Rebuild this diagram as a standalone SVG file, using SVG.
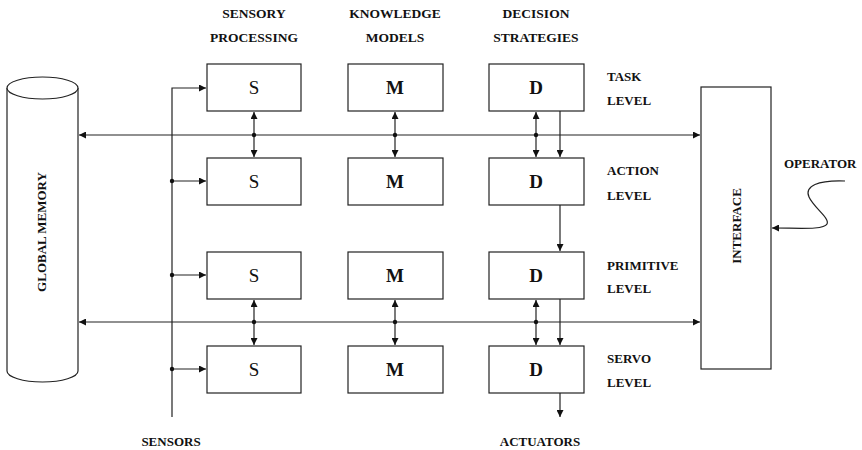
<svg xmlns="http://www.w3.org/2000/svg" width="862" height="450" viewBox="0 0 862 450">
<style>
  .bx{fill:#fff;stroke:#222;stroke-width:1.2}
  .ln{fill:none;stroke:#222;stroke-width:1.2}
  .lbl{font-family:"Liberation Serif","DejaVu Serif",serif;font-weight:bold;font-size:13px;fill:#111}
  .hd{font-family:"Liberation Serif","DejaVu Serif",serif;font-weight:bold;font-size:13.5px;fill:#111;text-anchor:middle}
  .big{font-family:"Liberation Serif","DejaVu Serif",serif;font-size:19px;fill:#111;text-anchor:middle}
  .bold{font-weight:bold}
  .dot{fill:#111}
</style>
<defs>
  <marker id="ah" viewBox="0 0 10 10" refX="10" refY="5" markerWidth="9" markerHeight="7" markerUnits="userSpaceOnUse" orient="auto-start-reverse">
    <path d="M0,0 L10,5 L0,10 Z" fill="#111"/>
  </marker>
</defs>

<g id="headers">
  <text class="hd" x="254" y="18">SENSORY</text>
  <text class="hd" x="254" y="42">PROCESSING</text>
  <text class="hd" x="395" y="18">KNOWLEDGE</text>
  <text class="hd" x="395" y="42">MODELS</text>
  <text class="hd" x="536" y="18">DECISION</text>
  <text class="hd" x="536" y="42">STRATEGIES</text>
</g>

<g id="levels">
  <text class="lbl" x="607" y="81">TASK</text>
  <text class="lbl" x="607" y="105">LEVEL</text>
  <text class="lbl" x="607" y="175">ACTION</text>
  <text class="lbl" x="607" y="200">LEVEL</text>
  <text class="lbl" x="607" y="270">PRIMITIVE</text>
  <text class="lbl" x="607" y="293">LEVEL</text>
  <text class="lbl" x="607" y="363">SERVO</text>
  <text class="lbl" x="607" y="387">LEVEL</text>
  <text class="lbl" x="784" y="168">OPERATOR</text>
  <text class="lbl" x="171" y="446" text-anchor="middle">SENSORS</text>
  <text class="lbl" x="540" y="446" text-anchor="middle">ACTUATORS</text>
</g>

<g id="global-memory">
  <path class="bx" d="M7,88 L7,371 A35.5,11 0 0 0 78,371 L78,88"/>
  <ellipse class="bx" cx="42.5" cy="88" rx="35.5" ry="11"/>
  <text class="lbl" transform="translate(46,232) rotate(-90)" text-anchor="middle">GLOBAL  MEMORY</text>
</g>

<g id="interface">
  <rect class="bx" x="701" y="87" width="70" height="282"/>
  <text class="lbl" transform="translate(741,226) rotate(-90)" text-anchor="middle">INTERFACE</text>
</g>

<g id="S1"><rect class="bx" x="207" y="64" width="94" height="47"/><text class="big" x="254" y="94">S</text></g>
<g id="S2"><rect class="bx" x="207" y="158" width="94" height="47"/><text class="big" x="254" y="188">S</text></g>
<g id="S3"><rect class="bx" x="207" y="252" width="94" height="47"/><text class="big" x="254" y="282">S</text></g>
<g id="S4"><rect class="bx" x="207" y="346" width="94" height="47"/><text class="big" x="254" y="376">S</text></g>

<g id="M1"><rect class="bx" x="348" y="64" width="95" height="47"/><text class="big bold" x="395" y="94">M</text></g>
<g id="M2"><rect class="bx" x="348" y="158" width="95" height="47"/><text class="big bold" x="395" y="188">M</text></g>
<g id="M3"><rect class="bx" x="348" y="252" width="95" height="47"/><text class="big bold" x="395" y="282">M</text></g>
<g id="M4"><rect class="bx" x="348" y="346" width="95" height="47"/><text class="big bold" x="395" y="376">M</text></g>

<g id="D1"><rect class="bx" x="489" y="64" width="95" height="47"/><text class="big bold" x="536" y="94">D</text></g>
<g id="D2"><rect class="bx" x="489" y="158" width="95" height="47"/><text class="big bold" x="536" y="188">D</text></g>
<g id="D3"><rect class="bx" x="489" y="252" width="95" height="47"/><text class="big bold" x="536" y="282">D</text></g>
<g id="D4"><rect class="bx" x="489" y="346" width="95" height="47"/><text class="big bold" x="536" y="376">D</text></g>

<g id="connectors">
  <!-- buses -->
  <line class="ln" x1="79" y1="135" x2="700" y2="135" marker-start="url(#ah)" marker-end="url(#ah)"/>
  <line class="ln" x1="79" y1="322" x2="700" y2="322" marker-start="url(#ah)" marker-end="url(#ah)"/>
  <!-- vertical double arrows -->
  <line class="ln" x1="254" y1="112" x2="254" y2="157" marker-start="url(#ah)" marker-end="url(#ah)"/>
  <line class="ln" x1="395" y1="112" x2="395" y2="157" marker-start="url(#ah)" marker-end="url(#ah)"/>
  <line class="ln" x1="536" y1="112" x2="536" y2="157" marker-start="url(#ah)" marker-end="url(#ah)"/>
  <line class="ln" x1="254" y1="300" x2="254" y2="345" marker-start="url(#ah)" marker-end="url(#ah)"/>
  <line class="ln" x1="395" y1="300" x2="395" y2="345" marker-start="url(#ah)" marker-end="url(#ah)"/>
  <line class="ln" x1="536" y1="300" x2="536" y2="345" marker-start="url(#ah)" marker-end="url(#ah)"/>
  <circle class="dot" cx="254" cy="135" r="2.2"/>
  <circle class="dot" cx="395" cy="135" r="2.2"/>
  <circle class="dot" cx="536" cy="135" r="2.2"/>
  <circle class="dot" cx="254" cy="322" r="2.2"/>
  <circle class="dot" cx="395" cy="322" r="2.2"/>
  <circle class="dot" cx="536" cy="322" r="2.2"/>
  <!-- decision chain -->
  <line class="ln" x1="560" y1="111" x2="560" y2="157" marker-end="url(#ah)"/>
  <line class="ln" x1="560" y1="205" x2="560" y2="251" marker-end="url(#ah)"/>
  <line class="ln" x1="560" y1="299" x2="560" y2="345" marker-end="url(#ah)"/>
  <line class="ln" x1="560" y1="393" x2="560" y2="417" marker-end="url(#ah)"/>
  <!-- sensors -->
  <path class="ln" d="M172,417 L172,88 L206,88" marker-end="url(#ah)"/>
  <line class="ln" x1="172" y1="181" x2="206" y2="181" marker-end="url(#ah)"/>
  <line class="ln" x1="172" y1="275" x2="206" y2="275" marker-end="url(#ah)"/>
  <line class="ln" x1="172" y1="369" x2="206" y2="369" marker-end="url(#ah)"/>
  <circle class="dot" cx="172" cy="181" r="2.2"/>
  <circle class="dot" cx="172" cy="275" r="2.2"/>
  <circle class="dot" cx="172" cy="369" r="2.2"/>
  <!-- operator -->
  <path class="ln" d="M845,181 C818,180 804,186 809,197 C814,208 830,218 827,224 C824,230 800,228 772,228" marker-end="url(#ah)"/>
</g>
</svg>
